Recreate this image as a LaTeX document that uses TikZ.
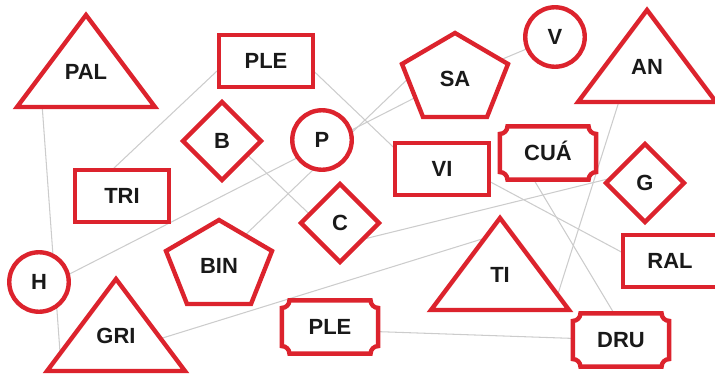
\documentclass[tikz,border=0pt]{standalone}
\usepackage{fontspec}
\setmainfont{Liberation Sans}
\usetikzlibrary{shapes.geometric,backgrounds}
\definecolor{signred}{RGB}{220,35,45}
\pgfdeclarelayer{edges}
\pgfsetlayers{edges,background,main}

% frames drawn round plain text nodes
\newcommand{\tr}{0.15cm}
\newcommand{\ticketframe}[1]{\draw[redline] ([xshift=\tr]#1.north west) -- ([xshift=-\tr]#1.north east)
  arc[start angle=180,end angle=270,radius=\tr] -- ([yshift=\tr]#1.south east)
  arc[start angle=90,end angle=180,radius=\tr] -- ([xshift=\tr]#1.south west)
  arc[start angle=0,end angle=90,radius=\tr] -- ([yshift=-\tr]#1.north west)
  arc[start angle=270,end angle=360,radius=\tr] -- cycle;}
\newcommand{\pentframe}[1]{\draw[redline] ([shift={(0,-46)}]#1.center) -- ([shift={(53,-15)}]#1.center)
  -- ([shift={(32,38)}]#1.center) -- ([shift={(-32,38)}]#1.center) -- ([shift={(-53,-15)}]#1.center) -- cycle;}
\newcommand{\triframe}[1]{\draw[redline] ([shift={(0,-57)}]#1.center) -- ([shift={(69,35)}]#1.center)
  -- ([shift={(-69,35)}]#1.center) -- cycle;}

\begin{document}
\begin{tikzpicture}[x=0.02cm, y=-0.02cm,
    word/.style={font=\fontsize{12.5}{14}\selectfont\bfseries, text=black!90, text height=9pt, text depth=0pt, inner sep=0pt},
    box/.style={word, draw=signred, line width=2.5pt, fill=white, minimum width=1.87cm, minimum height=1.03cm},
    ring/.style={word, circle, draw=signred, line width=2.5pt, fill=white, minimum size=1.19cm},
    rhomb/.style={word, diamond, draw=signred, line width=2.5pt, fill=white, minimum width=1.6cm, minimum height=1.6cm},
    ticket/.style={word, minimum width=1.91cm, minimum height=1.05cm},
    redline/.style={draw=signred, line width=2.5pt, fill=white},
    link/.style={draw=black!20, line width=0.6pt}]
    \useasboundingbox (0,0) rectangle (715,378);

    % Triangles and pentagons
    \node[word] (pal) at (86,72) {PAL};
    \node[word] (gri) at (116,336) {GRI};
    \node[word] (ti) at (500,275) {TI};
    \node[word] (an) at (647,67) {AN};
    \node[word] (sa) at (455,79) {SA};
    \node[word] (bin) at (219,266) {BIN};

    % Tickets
    \node[ticket] (cua) at (548,153) {CUÁ};
    \node[ticket] (ple2) at (330,327) {PLE};
    \node[ticket] (dru) at (621,340) {DRU};

    % Boxes, diamonds, circles
    \node[box] (ple1) at (266,61) {PLE};
    \node[box] (tri) at (122,196) {TRI};
    \node[box] (vi) at (442,169) {VI};
    \node[box] (ral) at (670,261) {RAL};
    \node[rhomb] (b) at (222,141) {B};
    \node[rhomb] (c) at (340,223) {C};
    \node[rhomb] (g) at (645,183) {G};
    \node[ring] (p) at (322,140) {P};
    \node[ring] (v) at (555,37) {V};
    \node[ring] (h) at (39,282) {H};

    \begin{pgfonlayer}{background}
        \triframe{pal} \triframe{gri} \triframe{ti} \triframe{an}
        \pentframe{sa} \pentframe{bin}
        \ticketframe{cua} \ticketframe{ple2} \ticketframe{dru}
    \end{pgfonlayer}

    % Grey links
    \begin{pgfonlayer}{edges}
        \draw[link] ([shift={(-45,18)}]pal.center) -- ([shift={(-55,30)}]gri.center);
        \draw[link] ([shift={(-26,-11)}]tri.center) -- ([shift={(-32,-6)}]ple1.center);
        \draw[link] ([shift={(34,-3)}]ple1.center) -- ([shift={(-32,-6)}]vi.center);
        \draw[link] ([shift={(13,2)}]b.center) -- ([shift={(-15,6)}]c.center);
        \draw[link] ([shift={(11,2)}]h.center) -- ([shift={(-25,11)}]sa.center);
        \draw[link] ([shift={(21,-26)}]bin.center) -- ([shift={(-40,-7)}]sa.center);
        \draw[link] (sa) -- (v);
        \draw[link] ([shift={(24,9)}]gri.center) -- ([shift={(-5,-40)}]ti.center);
        \draw[link] ([shift={(20,17)}]c.center) -- ([shift={(-25,-7)}]g.center);
        \draw[link] ([shift={(28,2)}]vi.center) -- ([shift={(-30,1)}]ral.center);
        \draw[link] ([shift={(-23,12)}]cua.center) -- ([shift={(3,-10)}]dru.center);
        \draw[link] ([shift={(-26,28)}]an.center) -- ([shift={(56,25)}]ti.center);
        \draw[link] ([shift={(30,4)}]ple2.center) -- ([shift={(-31,-1)}]dru.center);
    \end{pgfonlayer}
\end{tikzpicture}
\end{document}
